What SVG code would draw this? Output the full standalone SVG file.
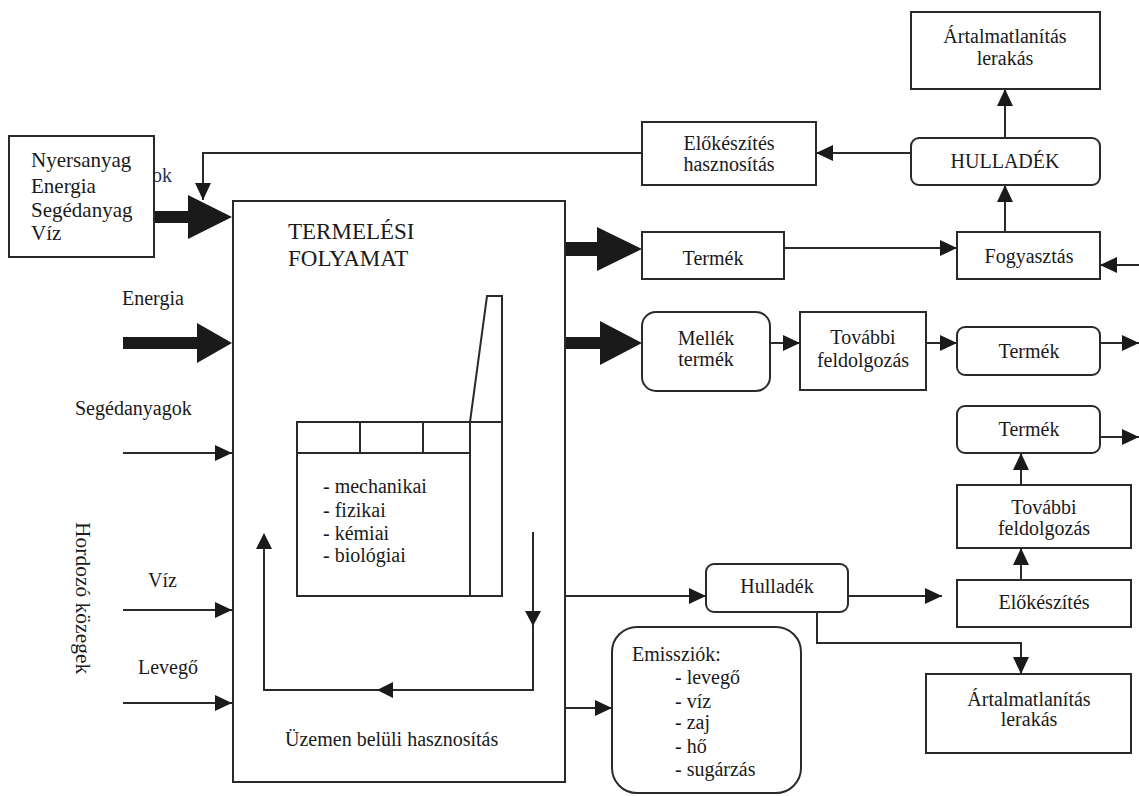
<svg xmlns="http://www.w3.org/2000/svg" width="1139" height="796" viewBox="0 0 1139 796" font-family="'Liberation Serif', 'DejaVu Serif', serif">
<defs>
<marker id="ah" markerUnits="userSpaceOnUse" markerWidth="17" markerHeight="16" refX="17" refY="8" orient="auto"><path d="M0,0 L17,8 L0,16 z" fill="#1a1a1a"/></marker>
<style>
.bx{fill:#fff;stroke:#2a2a2a;stroke-width:2}
.ln{fill:none;stroke:#2a2a2a;stroke-width:2}
.ar{fill:none;stroke:#2a2a2a;stroke-width:2;marker-end:url(#ah)}
.fl{fill:#1a1a1a;stroke:none}
text{font-family:'Liberation Serif','DejaVu Serif',serif;font-size:20px;fill:#1a1a1a}
.c{text-anchor:middle}
.t{font-size:23px}
.big{font-size:21px}
.v{font-size:21.5px}
</style>
</defs>
<rect width="1139" height="796" fill="#fff"/>

<g id="connectors">
<polygon class="fl" points="154,211 188,211 188,195 232,217 188,239 188,223 154,223"/>
<polygon class="fl" points="123,337 197,337 197,323 232,343 197,363 197,349 123,349"/>
<line class="ar" x1="123" y1="453" x2="232" y2="453"/>
<line class="ar" x1="123" y1="610" x2="232" y2="610"/>
<line class="ar" x1="123" y1="703" x2="232" y2="703"/>
<polyline class="ar" points="642,153 203,153 203,200"/>
<polygon class="fl" points="565,242 597,242 597,227 642,249 597,271 597,256 565,256"/>
<polygon class="fl" points="565,337 600,337 600,321 642,343 600,365 600,349 565,349"/>
<line class="ar" x1="784" y1="248" x2="957" y2="248"/>
<line class="ar" x1="1005" y1="232" x2="1005" y2="185"/>
<line class="ar" x1="1005" y1="138" x2="1005" y2="89"/>
<line class="ar" x1="911" y1="153" x2="816" y2="153"/>
<line class="ar" x1="1139" y1="265" x2="1100" y2="265"/>
<line class="ar" x1="770" y1="343" x2="800" y2="343"/>
<line class="ar" x1="926" y1="343" x2="957" y2="343"/>
<line class="ar" x1="1100" y1="343" x2="1139" y2="343"/>
<line class="ar" x1="1100" y1="437" x2="1139" y2="437"/>
<line class="ar" x1="1021" y1="485" x2="1021" y2="453"/>
<line class="ar" x1="1021" y1="580" x2="1021" y2="548"/>
<line class="ar" x1="565" y1="596" x2="706" y2="596"/>
<line class="ar" x1="848" y1="596" x2="942" y2="596"/>
<polyline class="ar" points="817,612 817,643 1021,643 1021,674"/>
<line class="ar" x1="565" y1="708" x2="612" y2="708"/>
<polyline class="ln" points="533,532 533,690 264,690 264,548"/>
<polygon class="fl" points="525,611 541,611 533,626"/>
<polygon class="fl" points="377,690 393,682 393,698"/>
<polygon class="fl" points="264,533 256,549 272,549"/>
</g>

<g id="input-box">
<text x="152" y="182" style="fill:#23335e">ok</text>
<rect class="bx" x="9" y="136" width="145" height="121"/>
<text class="big" x="31" y="167">Nyersanyag</text>
<text class="big" x="31" y="193">Energia</text>
<text class="big" x="31" y="217">Segédanyag</text>
<text class="big" x="31" y="240">Víz</text>
</g>

<g id="left-labels">
<text x="122" y="305">Energia</text>
<text x="75" y="415">Segédanyagok</text>
<text x="148" y="587">Víz</text>
<text x="138" y="674">Levegő</text>
<text class="v" transform="translate(76,522) rotate(90)">Hordozó közegek</text>
</g>

<g id="termelesi-folyamat">
<rect class="bx" x="233" y="201" width="332" height="581" style="fill:none"/>
<text class="t" x="288" y="239">TERMELÉSI</text>
<text class="t" x="288" y="266">FOLYAMAT</text>
<polyline class="ln" points="470,422 487,296 502,296 502,596"/>
<rect class="ln" x="297" y="422" width="205" height="174"/>
<line class="ln" x1="297" y1="453" x2="470" y2="453"/>
<line class="ln" x1="470" y1="422" x2="470" y2="596"/>
<line class="ln" x1="360" y1="422" x2="360" y2="453"/>
<line class="ln" x1="423" y1="422" x2="423" y2="453"/>
<text x="323" y="493">- mechanikai</text>
<text x="323" y="517">- fizikai</text>
<text x="323" y="540">- kémiai</text>
<text x="323" y="562">- biológiai</text>
<text x="285" y="746">Üzemen belüli hasznosítás</text>
</g>

<g id="artalmatlanitas-1">
<rect class="bx" x="911" y="12" width="189" height="77"/>
<text class="c" x="1005" y="43">Ártalmatlanítás</text>
<text class="c" x="1005" y="65">lerakás</text>
</g>
<g id="hulladek-1">
<rect class="bx" x="911" y="138" width="189" height="47" rx="8"/>
<text class="c" x="1005" y="168">HULLADÉK</text>
</g>
<g id="elokeszites-hasznositas">
<rect class="bx" x="642" y="122" width="174" height="63"/>
<text class="c" x="729" y="150">Előkészítés</text>
<text class="c" x="729" y="171">hasznosítás</text>
</g>
<g id="termek-1">
<rect class="bx" x="642" y="232" width="142" height="47"/>
<text class="c" x="713" y="265">Termék</text>
</g>
<g id="fogyasztas">
<rect class="bx" x="957" y="232" width="143" height="47"/>
<text class="c" x="1029" y="263">Fogyasztás</text>
</g>
<g id="mellek-termek">
<rect class="bx" x="642" y="312" width="128" height="79" rx="14"/>
<text class="c" x="706" y="345">Mellék</text>
<text class="c" x="706" y="366">termék</text>
</g>
<g id="tovabbi-feldolgozas-1">
<rect class="bx" x="800" y="312" width="126" height="78"/>
<text class="c" x="863" y="344">További</text>
<text class="c" x="863" y="367">feldolgozás</text>
</g>
<g id="termek-2">
<rect class="bx" x="957" y="327" width="143" height="48" rx="8"/>
<text class="c" x="1029" y="358">Termék</text>
</g>
<g id="termek-3">
<rect class="bx" x="957" y="406" width="143" height="47" rx="8"/>
<text class="c" x="1029" y="436">Termék</text>
</g>
<g id="tovabbi-feldolgozas-2">
<rect class="bx" x="957" y="485" width="174" height="63"/>
<text class="c" x="1044" y="514">További</text>
<text class="c" x="1044" y="535">feldolgozás</text>
</g>
<g id="elokeszites">
<rect class="bx" x="957" y="580" width="174" height="47"/>
<text class="c" x="1044" y="609">Előkészítés</text>
</g>
<g id="hulladek-2">
<rect class="bx" x="706" y="564" width="142" height="48" rx="8"/>
<text class="c" x="777" y="593">Hulladék</text>
</g>
<g id="artalmatlanitas-2">
<rect class="bx" x="926" y="674" width="205" height="79"/>
<text class="c" x="1029" y="706">Ártalmatlanítás</text>
<text class="c" x="1029" y="726">lerakás</text>
</g>
<g id="emissziok">
<rect class="bx" x="612" y="627" width="189" height="166" rx="25"/>
<text x="632" y="661">Emissziók:</text>
<text x="675" y="684">- levegő</text>
<text x="675" y="708">- víz</text>
<text x="675" y="729">- zaj</text>
<text x="675" y="753">- hő</text>
<text x="675" y="776">- sugárzás</text>
</g>
</svg>
